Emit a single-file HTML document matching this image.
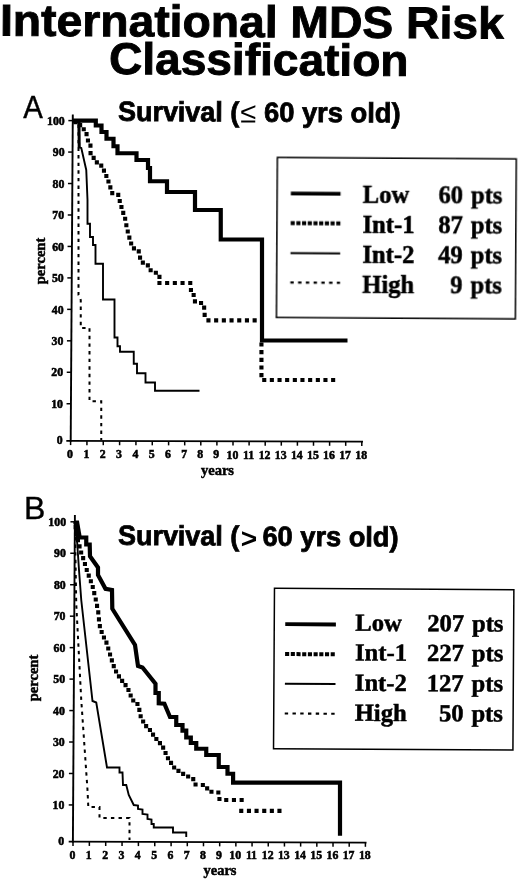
<!DOCTYPE html>
<html lang="en"><head><meta charset="utf-8"><title>International MDS Risk Classification</title>
<style>html,body{margin:0;padding:0;background:#fff;}body{width:520px;height:881px;overflow:hidden;}svg{display:block;}</style>
</head><body>
<svg width="520" height="881" viewBox="0 0 520 881">
<style>
.tk{font:bold 11.8px "Liberation Serif", "Times New Roman", Times, serif;stroke:#000;stroke-width:0.55px;}
.lg{font:bold 24.6px "Liberation Serif", "Times New Roman", Times, serif;stroke:#000;stroke-width:0.5px;}
.ax{font:bold 14.5px "Liberation Serif", "Times New Roman", Times, serif;stroke:#000;stroke-width:0.5px;}
.st{font:bold 27.8px "Liberation Sans", Arial, Helvetica, sans-serif;stroke:#000;stroke-width:0.8px;}
.sy{font:29px "Liberation Sans", Arial, Helvetica, sans-serif;}
.sy2{font:bold 28px "Liberation Sans", Arial, Helvetica, sans-serif;}
.pn{font:30px "Liberation Sans", Arial, Helvetica, sans-serif;stroke:#000;stroke-width:0.4px;}
.ti{font:bold 44.5px "Liberation Sans", Arial, Helvetica, sans-serif;stroke:#000;stroke-width:0.9px;}
</style>
<defs><filter id="soft" x="0" y="0" width="520" height="881" filterUnits="userSpaceOnUse"><feGaussianBlur stdDeviation="0.3"/></filter></defs>
<rect width="520" height="881" fill="#fff"/>
<g filter="url(#soft)">
<g transform="rotate(0.34 3 36)">
<text x="0" y="35.6" textLength="503.7" lengthAdjust="spacingAndGlyphs" class="ti">International MDS Risk</text>
</g>
<g transform="rotate(0.36 110 74)">
<text x="109" y="74" textLength="299.4" lengthAdjust="spacingAndGlyphs" class="ti">Classification</text>
</g>
<text x="23.2" y="117.6" class="pn" style="font-size:31px" textLength="19.6" lengthAdjust="spacingAndGlyphs">A</text>
<g transform="rotate(0.34 118 121)">
<text x="118" y="120.8" textLength="121.2" lengthAdjust="spacingAndGlyphs" class="st">Survival (</text>
<text x="240.2" y="121.7" class="sy">≤</text>
<text x="264" y="120.8" textLength="136.5" lengthAdjust="spacingAndGlyphs" class="st">60 yrs old)</text>
</g>
<text x="24" y="518.9" class="pn" style="font-size:32px">B</text>
<g transform="rotate(0.34 118 545)">
<text x="118" y="544.8" textLength="121.2" lengthAdjust="spacingAndGlyphs" class="st">Survival (</text>
<text x="240.9" y="547.4" class="sy2">&gt;</text>
<text x="262.5" y="544.8" textLength="136" lengthAdjust="spacingAndGlyphs" class="st">60 yrs old)</text>
</g>

<line x1="72.8" y1="114.5" x2="70.6942" y2="441.79999999999995" stroke="#000" stroke-width="1.9"/>
<line x1="66.3" y1="440.9" x2="363" y2="441.7" stroke="#000" stroke-width="1.8"/>
<line x1="68.3608" y1="120.6" x2="72.7608" y2="120.6" stroke="#000" stroke-width="1.5"/>
<text x="64.7608" y="124.8" text-anchor="end" class="tk">100</text>
<line x1="68.1583" y1="152.06" x2="72.5583" y2="152.06" stroke="#000" stroke-width="1.5"/>
<text x="64.5583" y="156.26" text-anchor="end" class="tk">90</text>
<line x1="67.9559" y1="183.52" x2="72.3559" y2="183.52" stroke="#000" stroke-width="1.5"/>
<text x="64.3559" y="187.72" text-anchor="end" class="tk">80</text>
<line x1="67.7535" y1="214.98" x2="72.1535" y2="214.98" stroke="#000" stroke-width="1.5"/>
<text x="64.1535" y="219.18" text-anchor="end" class="tk">70</text>
<line x1="67.5511" y1="246.44" x2="71.9511" y2="246.44" stroke="#000" stroke-width="1.5"/>
<text x="63.9511" y="250.64" text-anchor="end" class="tk">60</text>
<line x1="67.3487" y1="277.9" x2="71.7487" y2="277.9" stroke="#000" stroke-width="1.5"/>
<text x="63.7487" y="282.1" text-anchor="end" class="tk">50</text>
<line x1="67.1463" y1="309.36" x2="71.5463" y2="309.36" stroke="#000" stroke-width="1.5"/>
<text x="63.5463" y="313.56" text-anchor="end" class="tk">40</text>
<line x1="66.9439" y1="340.82" x2="71.3439" y2="340.82" stroke="#000" stroke-width="1.5"/>
<text x="63.3439" y="345.02" text-anchor="end" class="tk">30</text>
<line x1="66.7415" y1="372.28" x2="71.1415" y2="372.28" stroke="#000" stroke-width="1.5"/>
<text x="63.1415" y="376.48" text-anchor="end" class="tk">20</text>
<line x1="66.5391" y1="403.74" x2="70.9391" y2="403.74" stroke="#000" stroke-width="1.5"/>
<text x="62.9391" y="407.94" text-anchor="end" class="tk">10</text>
<text x="62.7" y="444.4" text-anchor="end" class="tk">0</text>
<line x1="70.6" y1="440.9" x2="70.6" y2="445.1" stroke="#000" stroke-width="1.5"/>
<text x="70" y="458.2" text-anchor="middle" class="tk">0</text>
<line x1="86.9333" y1="440.944" x2="86.9333" y2="445.144" stroke="#000" stroke-width="1.5"/>
<text x="86.3333" y="458.2" text-anchor="middle" class="tk">1</text>
<line x1="103.267" y1="440.989" x2="103.267" y2="445.189" stroke="#000" stroke-width="1.5"/>
<text x="102.667" y="458.2" text-anchor="middle" class="tk">2</text>
<line x1="119.6" y1="441.034" x2="119.6" y2="445.234" stroke="#000" stroke-width="1.5"/>
<text x="119" y="458.2" text-anchor="middle" class="tk">3</text>
<line x1="135.933" y1="441.079" x2="135.933" y2="445.279" stroke="#000" stroke-width="1.5"/>
<text x="135.333" y="458.2" text-anchor="middle" class="tk">4</text>
<line x1="152.267" y1="441.123" x2="152.267" y2="445.323" stroke="#000" stroke-width="1.5"/>
<text x="151.667" y="458.2" text-anchor="middle" class="tk">5</text>
<line x1="168.6" y1="441.168" x2="168.6" y2="445.368" stroke="#000" stroke-width="1.5"/>
<text x="168" y="458.2" text-anchor="middle" class="tk">6</text>
<line x1="184.7" y1="441.212" x2="184.7" y2="445.412" stroke="#000" stroke-width="1.5"/>
<text x="184.1" y="458.2" text-anchor="middle" class="tk">7</text>
<line x1="200.8" y1="441.256" x2="200.8" y2="445.456" stroke="#000" stroke-width="1.5"/>
<text x="200.2" y="458.2" text-anchor="middle" class="tk">8</text>
<line x1="216.9" y1="441.3" x2="216.9" y2="445.5" stroke="#000" stroke-width="1.5"/>
<text x="216.3" y="458.2" text-anchor="middle" class="tk">9</text>
<line x1="233" y1="441.344" x2="233" y2="445.544" stroke="#000" stroke-width="1.5"/>
<text x="232.4" y="458.9" text-anchor="middle" class="tk">10</text>
<line x1="249.1" y1="441.388" x2="249.1" y2="445.588" stroke="#000" stroke-width="1.5"/>
<text x="248.5" y="458.9" text-anchor="middle" class="tk">11</text>
<line x1="265.2" y1="441.432" x2="265.2" y2="445.632" stroke="#000" stroke-width="1.5"/>
<text x="264.6" y="458.9" text-anchor="middle" class="tk">12</text>
<line x1="281.3" y1="441.476" x2="281.3" y2="445.676" stroke="#000" stroke-width="1.5"/>
<text x="280.7" y="458.9" text-anchor="middle" class="tk">13</text>
<line x1="297.4" y1="441.52" x2="297.4" y2="445.72" stroke="#000" stroke-width="1.5"/>
<text x="296.8" y="458.9" text-anchor="middle" class="tk">14</text>
<line x1="313.5" y1="441.565" x2="313.5" y2="445.765" stroke="#000" stroke-width="1.5"/>
<text x="312.9" y="458.9" text-anchor="middle" class="tk">15</text>
<line x1="329.6" y1="441.609" x2="329.6" y2="445.809" stroke="#000" stroke-width="1.5"/>
<text x="329" y="458.9" text-anchor="middle" class="tk">16</text>
<line x1="345.7" y1="441.653" x2="345.7" y2="445.853" stroke="#000" stroke-width="1.5"/>
<text x="345.1" y="458.9" text-anchor="middle" class="tk">17</text>
<line x1="361.8" y1="441.697" x2="361.8" y2="445.897" stroke="#000" stroke-width="1.5"/>
<text x="361.2" y="458.9" text-anchor="middle" class="tk">18</text>
<text transform="translate(45.3,261) rotate(-90)" text-anchor="middle" class="ax">percent</text>
<text x="217.5" y="475" text-anchor="middle" class="ax">years</text>
<polyline points="72.5,120.6 78.5,124 78.5,295 80.75,300 80.75,328 89.5,328 89.5,401.25 101.25,401.25 101.25,440" fill="none" stroke="#000" stroke-width="2" stroke-linejoin="miter" stroke-dasharray="3.4 4.2"/>
<polyline points="72.5,120.6 78.6,122.5 79.2,147.5 81.3,148 86.25,170 87.5,200 87.5,223.75 90,223.75 90,237 93,237 93,245 95.5,245 95.5,263.75 103,263.75 103,299.5 114.5,299.5 114.5,337.5 117.5,337.5 117.5,346.25 120,346.25 120,351.75 133.75,351.75 133.75,363.75 137,363.75 137,373.25 145.5,373.25 145.5,382.5 155,382.5 155,390.8 199.5,390.8" fill="none" stroke="#000" stroke-width="1.9" stroke-linejoin="miter"/>
<line x1="79" y1="122" x2="79.2" y2="148" stroke="#000" stroke-width="3"/>
<path d="M73.3 120.2h4.1v4.1h-4.1zM78.1 123.1h4.1v4.1h-4.1zM81.7 127.2h4.1v4.1h-4.1zM84.5 132.1h4.1v4.1h-4.1zM85.9 138.4h4.1v4.1h-4.1zM88.4 143.6h4.1v4.1h-4.1zM88.5 151.1h4.1v4.1h-4.1zM91.6 155.8h4.1v4.1h-4.1zM94.8 160.3h4.1v4.1h-4.1zM99.2 163.6h4.1v4.1h-4.1zM101.9 168.6h4.1v4.1h-4.1zM104.3 173.9h4.1v4.1h-4.1zM106.4 179.5h4.1v4.1h-4.1zM108.3 185.3h4.1v4.1h-4.1zM110.2 191.1h4.1v4.1h-4.1zM116.2 192.8h4.1v4.1h-4.1zM117.7 199.0h4.1v4.1h-4.1zM119.4 205.0h4.1v4.1h-4.1zM121.2 210.8h4.1v4.1h-4.1zM123.1 216.7h4.1v4.1h-4.1zM124.3 223.2h4.1v4.1h-4.1zM125.7 229.5h4.1v4.1h-4.1zM127.3 235.6h4.1v4.1h-4.1zM129.1 241.5h4.1v4.1h-4.1zM131.9 246.3h4.1v4.1h-4.1zM136.7 249.3h4.1v4.1h-4.1zM138.0 255.6h4.1v4.1h-4.1zM140.8 260.6h4.1v4.1h-4.1zM145.8 263.3h4.1v4.1h-4.1zM148.6 268.2h4.1v4.1h-4.1zM153.8 270.7h4.1v4.1h-4.1zM157.4 274.8h4.1v4.1h-4.1z" fill="#000"/>
<path d="M157.4 280.9h4.1v4.1h-4.1zM165.1 280.9h4.1v4.1h-4.1zM172.8 280.9h4.1v4.1h-4.1zM180.5 280.9h4.1v4.1h-4.1zM188.2 280.9h4.1v4.1h-4.1zM188.9 287.9h4.1v4.1h-4.1zM191.6 293.0h4.1v4.1h-4.1zM192.9 299.3h4.1v4.1h-4.1zM199.0 300.9h4.1v4.1h-4.1zM202.1 305.6h4.1v4.1h-4.1zM202.6 312.8h4.1v4.1h-4.1z" fill="#000"/>
<path d="M206.4 318.3h4.1v4.1h-4.1zM214.1 318.3h4.1v4.1h-4.1zM221.8 318.3h4.1v4.1h-4.1zM229.5 318.3h4.1v4.1h-4.1zM237.2 318.3h4.1v4.1h-4.1zM244.9 318.3h4.1v4.1h-4.1zM252.6 318.3h4.1v4.1h-4.1z" fill="#000"/>
<path d="M259.4 342.4h4.1v4.1h-4.1zM259.4 350.1h4.1v4.1h-4.1zM259.4 357.8h4.1v4.1h-4.1zM259.4 365.4h4.1v4.1h-4.1zM259.4 373.1h4.1v4.1h-4.1zM262.2 377.9h4.1v4.1h-4.1zM269.8 377.9h4.1v4.1h-4.1zM277.5 377.9h4.1v4.1h-4.1zM285.1 377.9h4.1v4.1h-4.1zM292.8 377.9h4.1v4.1h-4.1zM300.4 377.9h4.1v4.1h-4.1zM308.1 377.9h4.1v4.1h-4.1zM315.8 377.9h4.1v4.1h-4.1zM323.4 377.9h4.1v4.1h-4.1zM331.1 377.9h4.1v4.1h-4.1z" fill="#000"/>
<polyline points="72.5,120.6 95.8,120.6 95.8,125.5 101.5,125.5 101.5,132 106.5,132 106.5,138.75 113.5,138.75 113.5,146.25 117.5,146.25 117.5,153.25 136.5,153.25 136.5,160 148,160 148,168 150,168 150,181.25 167,181.25 167,192 195,192 195,210 220.75,210 220.75,239.5 262,239.5 262,340.5 347.5,340.5" fill="none" stroke="#000" stroke-width="4.2" stroke-linejoin="miter"/>
<g transform="rotate(0.34 396.35 238.2)">
<rect x="276.9" y="158.2" width="238.9" height="160" fill="#fff" stroke="#000" stroke-width="1.5"/>
<line x1="290.6" y1="194.1" x2="340.3" y2="194.1" stroke="#000" stroke-width="3.9"/>
<text x="362.5" y="203.2" class="lg">Low</text>
<text x="502.2" y="203.2" class="lg" text-anchor="end" word-spacing="1.8">60 pts</text>
<line x1="290.6" y1="223.8" x2="340.3" y2="223.8" stroke="#000" stroke-width="4" stroke-dasharray="4.1 1.6"/>
<text x="362.5" y="233.1" class="lg">Int-1</text>
<text x="502.2" y="233.1" class="lg" text-anchor="end" word-spacing="1.8">87 pts</text>
<line x1="290.6" y1="253.7" x2="340.3" y2="253.7" stroke="#000" stroke-width="2"/>
<text x="362.5" y="263.3" class="lg">Int-2</text>
<text x="502.2" y="263.3" class="lg" text-anchor="end" word-spacing="1.8">49 pts</text>
<line x1="290.6" y1="283.1" x2="340.3" y2="283.1" stroke="#000" stroke-width="2.1" stroke-dasharray="3.4 4.35"/>
<text x="362.5" y="293.1" class="lg">High</text>
<text x="502.2" y="293.1" class="lg" text-anchor="end" word-spacing="1.8">9 pts</text>
</g>
<line x1="74.9" y1="515" x2="72.8945" y2="842.6" stroke="#000" stroke-width="1.9"/>
<line x1="68.7" y1="841.7" x2="366.5" y2="842.6" stroke="#000" stroke-width="1.8"/>
<line x1="70.4584" y1="521.8" x2="74.8584" y2="521.8" stroke="#000" stroke-width="1.5"/>
<text x="66.0584" y="526" text-anchor="end" class="tk">100</text>
<line x1="70.2658" y1="553.26" x2="74.6658" y2="553.26" stroke="#000" stroke-width="1.5"/>
<text x="65.8658" y="557.46" text-anchor="end" class="tk">90</text>
<line x1="70.0732" y1="584.72" x2="74.4732" y2="584.72" stroke="#000" stroke-width="1.5"/>
<text x="65.6732" y="588.92" text-anchor="end" class="tk">80</text>
<line x1="69.8806" y1="616.18" x2="74.2806" y2="616.18" stroke="#000" stroke-width="1.5"/>
<text x="65.4806" y="620.38" text-anchor="end" class="tk">70</text>
<line x1="69.688" y1="647.64" x2="74.088" y2="647.64" stroke="#000" stroke-width="1.5"/>
<text x="65.288" y="651.84" text-anchor="end" class="tk">60</text>
<line x1="69.4954" y1="679.1" x2="73.8954" y2="679.1" stroke="#000" stroke-width="1.5"/>
<text x="65.0954" y="683.3" text-anchor="end" class="tk">50</text>
<line x1="69.3028" y1="710.56" x2="73.7028" y2="710.56" stroke="#000" stroke-width="1.5"/>
<text x="64.9028" y="714.76" text-anchor="end" class="tk">40</text>
<line x1="69.1102" y1="742.02" x2="73.5102" y2="742.02" stroke="#000" stroke-width="1.5"/>
<text x="64.7102" y="746.22" text-anchor="end" class="tk">30</text>
<line x1="68.9176" y1="773.48" x2="73.3176" y2="773.48" stroke="#000" stroke-width="1.5"/>
<text x="64.5176" y="777.68" text-anchor="end" class="tk">20</text>
<line x1="68.725" y1="804.94" x2="73.125" y2="804.94" stroke="#000" stroke-width="1.5"/>
<text x="64.325" y="809.14" text-anchor="end" class="tk">10</text>
<text x="64.1" y="845.3" text-anchor="end" class="tk">0</text>
<line x1="73" y1="841.7" x2="73" y2="845.9" stroke="#000" stroke-width="1.5"/>
<text x="72.4" y="858.9" text-anchor="middle" class="tk">0</text>
<line x1="89.35" y1="841.75" x2="89.35" y2="845.95" stroke="#000" stroke-width="1.5"/>
<text x="88.75" y="858.9" text-anchor="middle" class="tk">1</text>
<line x1="105.7" y1="841.801" x2="105.7" y2="846.001" stroke="#000" stroke-width="1.5"/>
<text x="105.1" y="858.9" text-anchor="middle" class="tk">2</text>
<line x1="122.05" y1="841.851" x2="122.05" y2="846.051" stroke="#000" stroke-width="1.5"/>
<text x="121.45" y="858.9" text-anchor="middle" class="tk">3</text>
<line x1="138.4" y1="841.901" x2="138.4" y2="846.101" stroke="#000" stroke-width="1.5"/>
<text x="137.8" y="858.9" text-anchor="middle" class="tk">4</text>
<line x1="154.75" y1="841.951" x2="154.75" y2="846.151" stroke="#000" stroke-width="1.5"/>
<text x="154.15" y="858.9" text-anchor="middle" class="tk">5</text>
<line x1="171.1" y1="842.001" x2="171.1" y2="846.201" stroke="#000" stroke-width="1.5"/>
<text x="170.5" y="858.9" text-anchor="middle" class="tk">6</text>
<line x1="187.292" y1="842.051" x2="187.292" y2="846.251" stroke="#000" stroke-width="1.5"/>
<text x="186.692" y="858.9" text-anchor="middle" class="tk">7</text>
<line x1="203.483" y1="842.1" x2="203.483" y2="846.3" stroke="#000" stroke-width="1.5"/>
<text x="202.883" y="858.9" text-anchor="middle" class="tk">8</text>
<line x1="219.675" y1="842.15" x2="219.675" y2="846.35" stroke="#000" stroke-width="1.5"/>
<text x="219.075" y="858.9" text-anchor="middle" class="tk">9</text>
<line x1="235.867" y1="842.2" x2="235.867" y2="846.4" stroke="#000" stroke-width="1.5"/>
<text x="235.267" y="859.3" text-anchor="middle" class="tk">10</text>
<line x1="252.058" y1="842.249" x2="252.058" y2="846.449" stroke="#000" stroke-width="1.5"/>
<text x="251.458" y="859.3" text-anchor="middle" class="tk">11</text>
<line x1="268.25" y1="842.299" x2="268.25" y2="846.499" stroke="#000" stroke-width="1.5"/>
<text x="267.65" y="859.3" text-anchor="middle" class="tk">12</text>
<line x1="284.442" y1="842.348" x2="284.442" y2="846.548" stroke="#000" stroke-width="1.5"/>
<text x="283.842" y="859.3" text-anchor="middle" class="tk">13</text>
<line x1="300.633" y1="842.398" x2="300.633" y2="846.598" stroke="#000" stroke-width="1.5"/>
<text x="300.033" y="859.3" text-anchor="middle" class="tk">14</text>
<line x1="316.825" y1="842.448" x2="316.825" y2="846.648" stroke="#000" stroke-width="1.5"/>
<text x="316.225" y="859.3" text-anchor="middle" class="tk">15</text>
<line x1="333.017" y1="842.497" x2="333.017" y2="846.697" stroke="#000" stroke-width="1.5"/>
<text x="332.417" y="859.3" text-anchor="middle" class="tk">16</text>
<line x1="349.208" y1="842.547" x2="349.208" y2="846.747" stroke="#000" stroke-width="1.5"/>
<text x="348.608" y="859.3" text-anchor="middle" class="tk">17</text>
<line x1="365.4" y1="842.597" x2="365.4" y2="846.797" stroke="#000" stroke-width="1.5"/>
<text x="364.8" y="859.3" text-anchor="middle" class="tk">18</text>
<text transform="translate(37.9,678) rotate(-90)" text-anchor="middle" class="ax">percent</text>
<text x="220" y="875" text-anchor="middle" class="ax">years</text>
<polyline points="75,521.8 75.5,560 76.25,604 81.25,700 87.5,790 88.3,807 99.5,807 99.5,818 129.5,818 129.5,840" fill="none" stroke="#000" stroke-width="2" stroke-linejoin="miter" stroke-dasharray="3.4 4.2"/>
<polyline points="75,521.8 77,540 79,570 81.25,600 92.5,701 96.25,702.5 107,767.5 119.5,767.5 119.5,772.5 122.5,772.5 123,785 126.25,785 128.75,795 133.75,805 138,805.5 138,809 142.5,809.5 142.5,814 147.5,814.5 147.5,819 151.5,819.5 151.5,824 153.75,824 153.75,827.5 173,827.5 173,832.5 186.25,832.5 186.25,837" fill="none" stroke="#000" stroke-width="1.9" stroke-linejoin="miter"/>
<path d="M73.6 525.1h4.1v4.1h-4.1zM74.3 532.1h4.1v4.1h-4.1zM75.9 538.2h4.1v4.1h-4.1zM77.5 544.3h4.1v4.1h-4.1zM79.1 550.4h4.1v4.1h-4.1zM81.1 556.1h4.1v4.1h-4.1zM82.9 562.0h4.1v4.1h-4.1zM84.7 567.9h4.1v4.1h-4.1zM86.7 573.6h4.1v4.1h-4.1zM88.8 579.2h4.1v4.1h-4.1zM90.7 585.0h4.1v4.1h-4.1zM92.2 591.1h4.1v4.1h-4.1zM93.7 597.4h4.1v4.1h-4.1zM95.0 603.8h4.1v4.1h-4.1zM96.2 610.3h4.1v4.1h-4.1zM96.9 617.3h4.1v4.1h-4.1zM97.8 624.1h4.1v4.1h-4.1zM99.6 630.0h4.1v4.1h-4.1zM101.9 635.4h4.1v4.1h-4.1zM104.4 640.6h4.1v4.1h-4.1zM106.2 646.5h4.1v4.1h-4.1zM108.0 652.4h4.1v4.1h-4.1zM109.8 658.3h4.1v4.1h-4.1zM111.7 664.1h4.1v4.1h-4.1zM114.0 669.5h4.1v4.1h-4.1zM116.9 674.3h4.1v4.1h-4.1zM120.1 678.8h4.1v4.1h-4.1zM123.5 683.1h4.1v4.1h-4.1zM126.4 687.9h4.1v4.1h-4.1zM128.6 693.4h4.1v4.1h-4.1zM131.2 698.5h4.1v4.1h-4.1zM135.4 702.0h4.1v4.1h-4.1zM137.3 707.8h4.1v4.1h-4.1zM138.6 714.2h4.1v4.1h-4.1zM141.1 719.4h4.1v4.1h-4.1zM144.1 724.1h4.1v4.1h-4.1zM147.9 728.0h4.1v4.1h-4.1zM151.0 732.6h4.1v4.1h-4.1zM154.3 737.0h4.1v4.1h-4.1zM157.9 741.1h4.1v4.1h-4.1zM161.1 745.6h4.1v4.1h-4.1zM163.5 750.9h4.1v4.1h-4.1zM165.9 756.2h4.1v4.1h-4.1zM169.0 760.8h4.1v4.1h-4.1zM172.1 765.4h4.1v4.1h-4.1zM176.4 768.8h4.1v4.1h-4.1zM181.1 771.8h4.1v4.1h-4.1zM186.1 774.5h4.1v4.1h-4.1zM191.2 777.1h4.1v4.1h-4.1zM193.5 782.5h4.1v4.1h-4.1zM200.8 782.9h4.1v4.1h-4.1zM205.1 786.3h4.1v4.1h-4.1zM209.4 789.7h4.1v4.1h-4.1zM216.3 790.5h4.1v4.1h-4.1zM217.4 797.0h4.1v4.1h-4.1zM224.2 798.0h4.1v4.1h-4.1zM231.9 798.0h4.1v4.1h-4.1zM239.6 798.0h4.1v4.1h-4.1z" fill="#000"/>
<path d="M239.2 808.8h4.1v4.1h-4.1zM246.9 808.8h4.1v4.1h-4.1zM254.5 808.8h4.1v4.1h-4.1zM262.2 808.8h4.1v4.1h-4.1zM269.8 808.8h4.1v4.1h-4.1zM277.4 808.8h4.1v4.1h-4.1z" fill="#000"/>
<polyline points="75,521.8 77,527 78.75,537.5 86.25,537.5 86.25,544.5 89.7,544.5 90,556.25 98,567.5 98,575 105.5,588.75 112,590 112.3,608.75 135,645 138,666 142.5,667.5 155.5,683.75 155.5,693 155.5,693 158.75,693 158.75,703.4 164.4,703.75 170,717 176.25,717 176.25,725 182.5,725 182.5,730.6 186.25,730.6 186.25,737.5 190.8,737.5 190.8,743 196.25,743 196.25,748.75 206.25,748.75 206.25,755 218.75,755 218.75,767 227.5,767 227.5,773.75 233.1,773.75 233.1,782.7 340,782.7 340,835.8" fill="none" stroke="#000" stroke-width="4.2" stroke-linejoin="miter"/>
<polygon points="74.6,520.6 78.9,520.6 82,538.5 77,538.5 74.6,530" fill="#000"/>
<g transform="rotate(0.34 393.7 669.2)">
<rect x="274" y="589" width="239.4" height="160.4" fill="#fff" stroke="#000" stroke-width="1.5"/>
<line x1="285" y1="624.8" x2="335.6" y2="624.8" stroke="#000" stroke-width="3.9"/>
<text x="355" y="631" class="lg">Low</text>
<text x="503.2" y="631" class="lg" text-anchor="end" word-spacing="1.8">207 pts</text>
<line x1="285" y1="654.7" x2="335.6" y2="654.7" stroke="#000" stroke-width="4" stroke-dasharray="4.1 1.6"/>
<text x="355" y="660.7" class="lg">Int-1</text>
<text x="503.2" y="660.7" class="lg" text-anchor="end" word-spacing="1.8">227 pts</text>
<line x1="285" y1="684.4" x2="335.6" y2="684.4" stroke="#000" stroke-width="2"/>
<text x="355" y="691" class="lg">Int-2</text>
<text x="503.2" y="691" class="lg" text-anchor="end" word-spacing="1.8">127 pts</text>
<line x1="285" y1="714.1" x2="335.6" y2="714.1" stroke="#000" stroke-width="2.1" stroke-dasharray="3.4 4.35"/>
<text x="355" y="721" class="lg">High</text>
<text x="503.2" y="721" class="lg" text-anchor="end" word-spacing="1.8">50 pts</text>
</g>
</g>
</svg>
</body></html>
